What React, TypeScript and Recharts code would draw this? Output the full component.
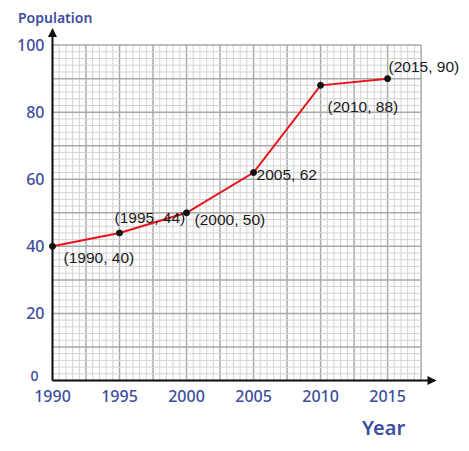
import React from "react";
import {
  LineChart,
  Line,
  XAxis,
  YAxis,
  ReferenceLine,
  ReferenceDot,
  LabelList,
} from "recharts";

const years = [1990, 1995, 2000, 2005, 2010, 2015];
const population = [40, 44, 50, 62, 88, 90];
const pointLabels = ["(1990, 40)", "(1995, 44)", "(2000, 50)", "2005, 62", "(2010, 88)", "(2015, 90)"];
const xTicks = [1990, 1995, 2000, 2005, 2010, 2015];
const yTicks = [0, 20, 40, 60, 80, 100];

// label placement relative to each point (dx, dy to text start / middle)
const labelOffsets: [number, number][] = [
  [11, 11],
  [-5, -15],
  [8, 7],
  [3, 2],
  [7, 21],
  [1, -12],
];

const data = years.map((year, i) => ({ year, population: population[i] }));

const GRID_X_END = 2017.5;
const GRID_Y_END = 100;
const minorX = Array.from({ length: 56 }, (_, i) => 1990 + i * 0.5);
const minorY = Array.from({ length: 51 }, (_, i) => i * 2);

const BLUE = "#3e4d9e";
const FONT = "'Noto Sans', sans-serif";

const ArrowRight = (props: any) => (
  <path
    d={`M${props.cx + 2},${props.cy} L${props.cx - 7},${props.cy - 4.5} L${props.cx - 7},${props.cy + 4.5} Z`}
    fill="#111"
  />
);

const ArrowUp = (props: any) => (
  <path
    d={`M${props.cx},${props.cy - 2} L${props.cx - 4.5},${props.cy + 7} L${props.cx + 4.5},${props.cy + 7} Z`}
    fill="#111"
  />
);

// y tick: the zero sits a bit left and up so it clears 1990
const YTick = (props: any) => {
  const { x, y, payload } = props;
  const isZero = payload.value === 0;
  return (
    <text
      x={x + (isZero ? -6 : 0)}
      y={y + (isZero ? -5 : 0)}
      textAnchor="end"
      dominantBaseline="central"
      fill={BLUE}
      fontSize={isZero ? 14 : 16}
      fontFamily={FONT}
      fontWeight={500}
    >
      {payload.value}
    </text>
  );
};

const PointLabel = (props: any) => {
  const { x, y, index } = props;
  const [dx, dy] = labelOffsets[index];
  return (
    <text
      x={x + dx}
      y={y + dy}
      dominantBaseline="central"
      fontFamily="'Liberation Sans', Arial, sans-serif"
      fontSize={15.5}
      fill="#1a1a1a"
    >
      {pointLabels[index]}
    </text>
  );
};

export default function App() {
  return (
    <div style={{ position: "absolute", left: 0, top: 0, width: 469, height: 451, background: "#fff" }}>
      <div
        style={{
          position: "absolute",
          left: 18,
          top: 8,
          fontFamily: FONT,
          fontSize: 14,
          fontWeight: 600,
          color: BLUE,
        }}
      >
        Population
      </div>
      <div
        style={{
          position: "absolute",
          left: 362,
          top: 414,
          fontFamily: FONT,
          fontSize: 20,
          fontWeight: 600,
          color: BLUE,
        }}
      >
        Year
      </div>
      <LineChart
        width={469}
        height={451}
        data={data}
        margin={{ top: 30, right: 34.5, left: 0, bottom: 40.5 }}
      >
        <XAxis
          dataKey="year"
          type="number"
          domain={[1990, 2018.5]}
          ticks={xTicks}
          height={30}
          tickLine={false}
          axisLine={{ stroke: "#111", strokeWidth: 2 }}
          tick={{ fill: BLUE, fontSize: 16, fontFamily: FONT, fontWeight: 500 }}
          tickMargin={4}
          interval={0}
        />
        <YAxis
          type="number"
          domain={[0, 104.5]}
          ticks={yTicks}
          width={52.5}
          tickLine={false}
          axisLine={{ stroke: "#111", strokeWidth: 2 }}
          tick={YTick}
          interval={0}
        />
        {minorX.map((v, i) => (
          <ReferenceLine
            key={`vx${v}`}
            segment={[
              { x: v, y: 0 },
              { x: v, y: GRID_Y_END },
            ]}
            stroke={i % 5 === 0 ? "#a9a9a9" : "#d2d2d2"}
            strokeWidth={i % 5 === 0 ? 1.5 : 1}
          />
        ))}
        {minorY.map((v, i) => (
          <ReferenceLine
            key={`hy${v}`}
            segment={[
              { x: 1990, y: v },
              { x: GRID_X_END, y: v },
            ]}
            stroke={i % 5 === 0 ? "#a9a9a9" : "#d2d2d2"}
            strokeWidth={i % 5 === 0 ? 1.5 : 1}
          />
        ))}
        <ReferenceDot x={2018.5} y={0} shape={ArrowRight} />
        <ReferenceDot x={1990} y={104.5} shape={ArrowUp} />
        <Line
          dataKey="population"
          type="linear"
          stroke="#e8141c"
          strokeWidth={2}
          dot={{ r: 3, fill: "#111", stroke: "#111", strokeWidth: 1 }}
          activeDot={false}
          isAnimationActive={false}
        >
          <LabelList dataKey="population" content={PointLabel} />
        </Line>
      </LineChart>
    </div>
  );
}
